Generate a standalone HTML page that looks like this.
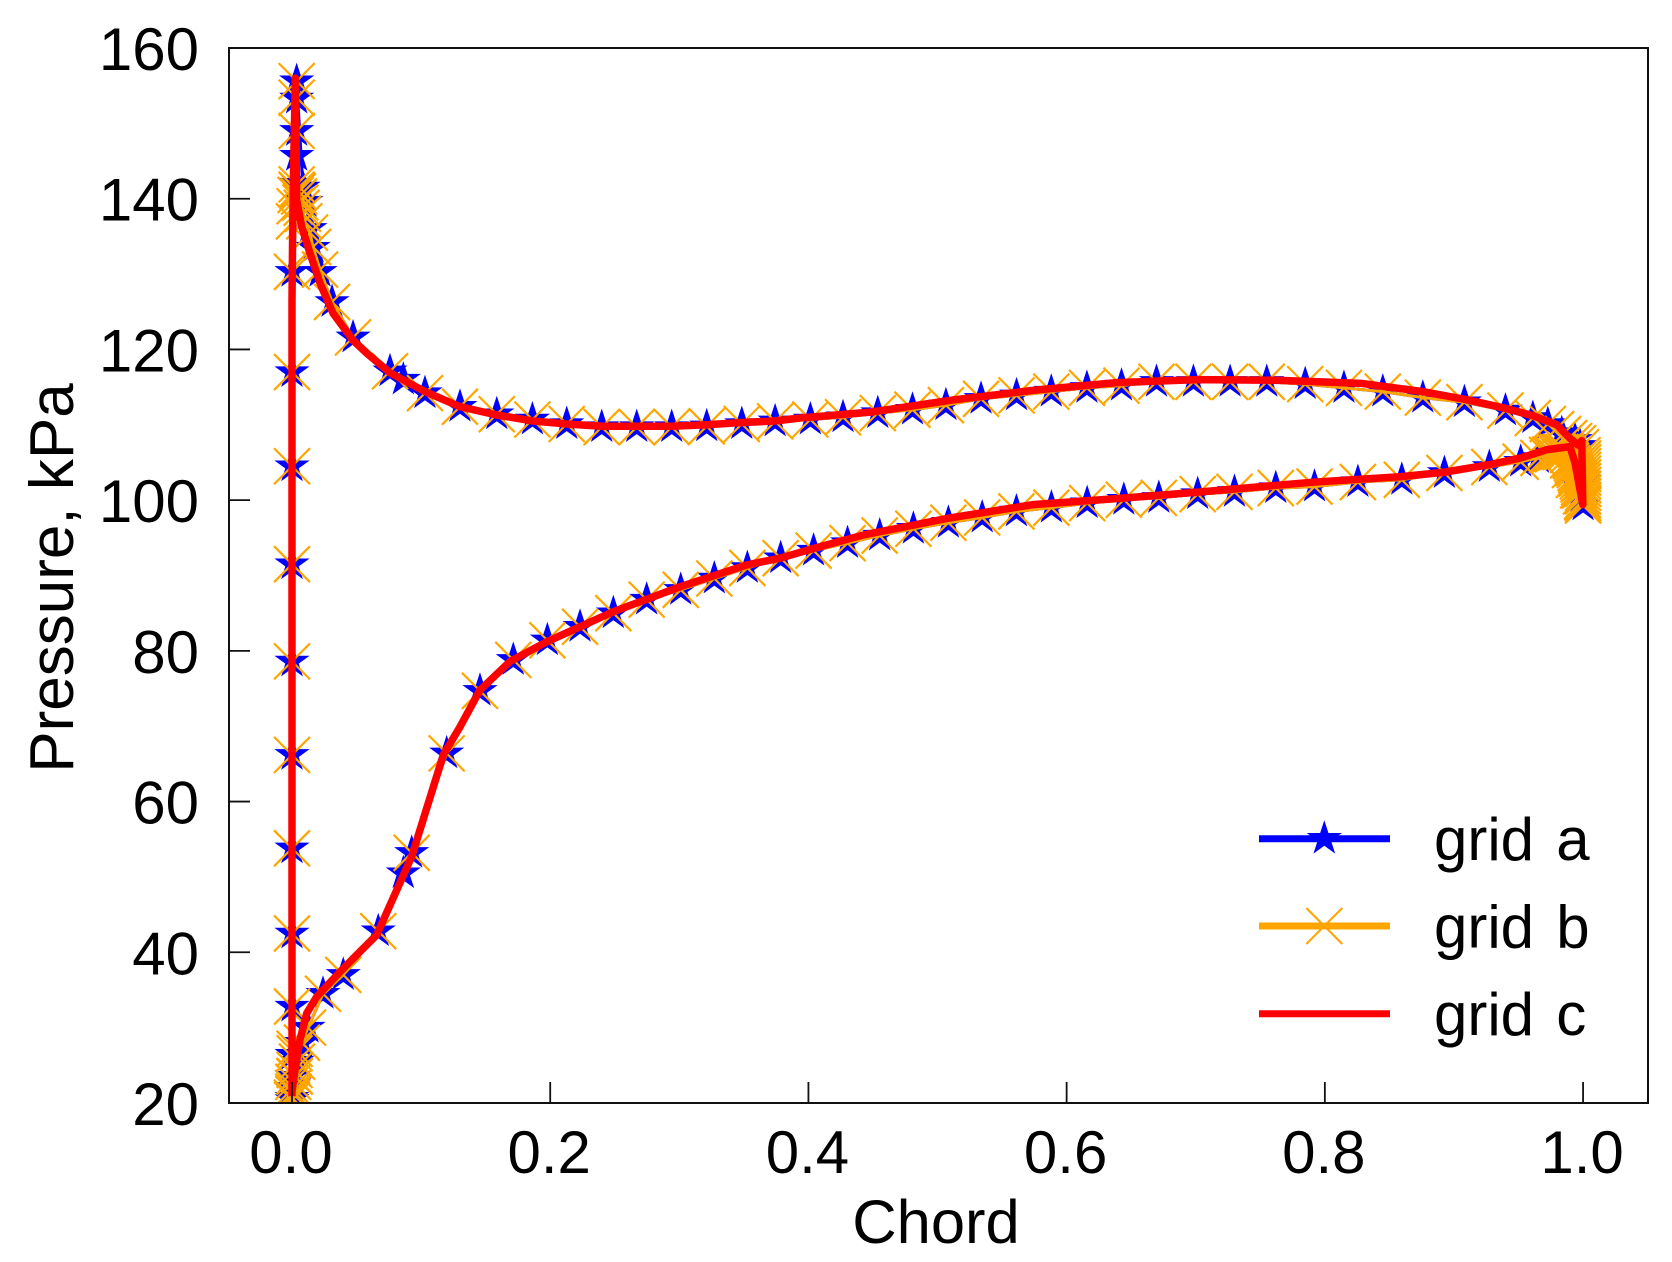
<!DOCTYPE html>
<html>
<head>
<meta charset="utf-8">
<style>
html,body{margin:0;padding:0;background:#fff;width:1672px;height:1262px;overflow:hidden}
svg{display:block}
text{font-family:"Liberation Sans",Arial,sans-serif;fill:#000}
</style>
</head>
<body>
<svg id="chart" xmlns="http://www.w3.org/2000/svg" width="1672" height="1262" viewBox="0 0 1672 1262">
  <defs><clipPath id="plot-clip"><rect x="229" y="48" width="1419" height="1055"/></clipPath></defs>
  <rect x="0" y="0" width="1672" height="1262" fill="#fff"/>
  <g id="series" clip-path="url(#plot-clip)"></g>
  <g id="axes"></g>
  <rect x="229" y="48" width="1419" height="1055" fill="none" stroke="#111" stroke-width="2"/>
  <text x="936" y="1243" font-size="61.5" text-anchor="middle">Chord</text>
  <text x="0" y="0" font-size="62" text-anchor="middle" transform="translate(73 578) rotate(-90)">Pressure, kPa</text>
  <g id="legend">
    <g>
      <line x1="1259" x2="1390" y1="838.7" y2="838.7" stroke="#0000ff" stroke-width="7"/>
      <polygon id="legend-star" fill="#0000ff"/>
      <text x="1434" y="860" font-size="60" word-spacing="5.5">grid a</text>
    </g>
    <g>
      <line x1="1259" x2="1390" y1="926" y2="926" stroke="#ffa500" stroke-width="7"/>
      <path d="M1306.3 908L1342.3 944M1306.3 944L1342.3 908" stroke="#ffa500" stroke-width="2" fill="none"/>
      <text x="1434" y="947.7" font-size="60" word-spacing="5.5">grid b</text>
    </g>
    <g>
      <line x1="1259" x2="1390" y1="1013.7" y2="1013.7" stroke="#ff0000" stroke-width="7"/>
      <text x="1434" y="1035" font-size="60" word-spacing="5.5">grid c</text>
    </g>
  </g>
</svg>
<script>
var xTicks = [0.0, 0.2, 0.4, 0.6, 0.8, 1.0];
var xTickLabels = ["0.0", "0.2", "0.4", "0.6", "0.8", "1.0"];
var yTicks = [20, 40, 60, 80, 100, 120, 140, 160];
var yTickLabels = ["20", "40", "60", "80", "100", "120", "140", "160"];

var gridAChord = [
0,0,0,0,0,0,0,0,0,0,0,0,0,
.0036,.0036,.0036,.0036,.0036,
.0085,.0108,.0139,.0163,.0217,.0310,.0473,
.0759,.0862,.1030,.1301,.1586,.1862,.2128,.2399,.2670,.2941,.3212,.3484,.3742,
.4015,.4268,.4537,.4806,.5065,.5337,.5612,.5881,.6157,.6425,.6696,.6982,.7266,.7550,.7848,.8148,.8449,.8759,.9081,.9399,.9611,.9727,.9835,.9938,
.9977,1,1,.9984,.9961,.9930,.9884,.9783,
.9654,.9517,.9274,.8926,.8596,
.8256,.7920,.7620,.7300,.7015,.6714,.6443,.6159,.5882,.5611,.5346,.5084,.4813,.4552,.4303,.4040,
.3785,.3527,.3271,.3011,.2747,.2489,.2231,.1978,.1714,.1456,
.1198,.0927,.0862,.0668,.0397,.0240,.0124,.0077,.0039,.0015,0];
var gridAPressure = [
20.4,22,23.5,26.4,32.8,42.5,53.8,66.2,78.6,91.5,104.5,117,130.3,
142,145.7,149,153.3,155.6,
141.5,139.6,136,133.5,130.3,126.3,121.6,
117.1,116,114.2,112.4,111.4,110.7,110.1,109.7,109.7,109.7,109.8,110.1,110.45,
110.7,111,111.55,112,112.6,113.45,113.9,114.4,114.9,115.2,115.7,115.7,115.7,115.7,115.4,114.9,114.4,113.6,113,111.9,110.9,110.1,108.9,108,
107.2,102.6,99.3,100.4,102,104,105.6,106,
105.6,105.1,104.4,103.6,102.7,
102.4,101.8,101.6,101.1,100.8,100.3,100.05,99.6,99,98.5,97.7,97,96.2,95.3,94.3,93.3,
92.3,91,89.6,88.1,86.8,85,83.2,81.4,78.8,74.7,
66.4,53.2,50.5,42.8,37,34.5,30,28,25.5,22.5,20.7];

var gridBChord = [
0,.001,.001,.001,.002,.002,.002,.002,
0,0,0,0,0,0,0,0,0,
.0015,.002,.0028,.0036,.0036,.0036,.0036,.0036,
.0045,.0055,.0065,.0075,.0085,.0095,.0139,.0163,.0217,.0310,.0473,
.0759,.1030,.1301,.1586,.1862,.2128,.2399,.2670,.2941,.3212,.3484,.3742,
.4015,.4268,.4537,.4806,.5065,.5337,.5612,.5881,.6157,.6425,.6696,.6982,.7266,.7550,.7848,.8148,.8449,.8759,.9081,.9399,.9611,.9727,
.9791,.9845,.9892,.9930,.9961,.9984,.9996,
1,1,1,1,1,1,1,1,1,1,1,1,1,1,
.9992,.9984,.9977,.9970,.9965,.9961,.9960,.9954,.9948,.9942,.9936,.9930,.9930,.9922,.9915,.9907,.9899,.9899,.9884,.9884,.9868,.9845,.9825,.9806,.9787,.9767,.9745,.9721,
.9654,.9517,.9274,.8926,.8596,
.8256,.7920,.7620,.7300,.7015,.6714,.6443,.6159,.5882,.5611,.5346,.5084,.4813,.4552,.4303,.4040,
.3785,.3527,.3271,.3011,.2747,.2489,.2231,.1978,.1714,.1456,
.1198,.0927,.0668,.0397,.0240,.0124,.0077,.0039,.0020,.0010,0];
var gridBPressure = [
20.4,21.2,22,22.8,23.6,24.4,26.6,27.2,
32.8,42.5,53.8,66.2,78.6,91.5,104.5,117,130.3,
137,139,140.5,141.2,141.9,149,153.4,155.6,
141,140.3,139.5,138.8,138,137,135.5,133.6,130.6,126.3,121.6,
117.1,114.2,112.4,111.4,110.7,110.1,109.7,109.7,109.7,109.8,110.1,110.45,
110.7,111,111.55,112,112.6,113.45,113.9,114.4,114.9,115.2,115.7,115.7,115.7,115.7,115.4,114.9,114.4,113.6,113,111.9,110.9,110.1,
109.43,108.77,108.24,107.84,107.57,107.04,105.97,
105.5,105,104.5,104,103.5,103,102.5,102,101.5,101,100.5,100,99.6,99.3,
99.8,100.5,101.3,101.7,102.1,101.3,102.5,102.9,103.3,103.6,104,104.3,102.7,104.6,104.9,105.2,105.4,104,106,105.3,106.4,106.4,106.4,106.4,106.3,106.1,106.05,106,
105.6,105.1,104.4,103.6,102.7,
102.4,101.8,101.6,101.1,100.8,100.3,100.05,99.6,99,98.5,97.7,97,96.2,95.3,94.3,93.3,
92.3,91,89.6,88.1,86.8,85,83.2,81.4,78.8,74.7,
66.4,53.2,42.8,37,34.5,30,28,25.5,23.5,21.5,20.7];

var gridCChord = [
0,0,0,0,0,.0006,.0015,.0026,.0031,.0036,.0075,.0139,.0217,.0318,.0473,.0579,.0759,.1030,.1301,.1586,.1869,.2128,.2399,.2670,.2941,.3212,.3484,.3741,.3935,.4490,.5120,.5755,.6387,.7018,.7653,.8280,.8761,.9078,.9396,.9613,.9796,.9899,.9961,.9990,.9998,
.9938,.9899,.9719,.9517,.9272,.8923,.8583,.7920,.7041,.6388,.5736,.5084,.4431,.4041,.3780,.3522,.3005,.2489,.1973,.1689,.1456,.1301,.1172,.0927,.0656,.0475,.0372,.0191,.0114,.0062,.0023,0];
var gridCPressure = [
20.9,46.9,73.5,100,126.6,137.2,146.5,156,149.1,139.8,136.3,132.8,128.8,124.8,121.2,119.5,116.9,114.4,112.4,111.3,110.5,110.1,109.8,109.8,109.8,110,110.3,110.5,110.9,111.7,113.3,114.6,115.6,116,115.9,115.5,114.4,113.4,112.2,111.2,110,108.2,107.3,107.9,99.4,
104.9,107.1,106.7,105.6,104.7,103.7,103.1,102.4,101.1,100.2,99.4,97.6,95.4,93.6,92.3,91.4,88.5,85.2,81.2,78.6,74.8,69.9,66.2,52.7,42.3,39.2,37.4,34.1,31.9,28.4,24.4,21.5];

var SVGNS = 'http://www.w3.org/2000/svg';
var plotLeft = 229, plotRight = 1648, plotTop = 48, plotBottom = 1103;
var xMin = -0.0488, xMax = 1.0503, yMin = 20, yMax = 160;
function xScale(v) { return plotLeft + (v - xMin) / (xMax - xMin) * (plotRight - plotLeft); }
function yScale(v) { return plotBottom - (v - yMin) / (yMax - yMin) * (plotBottom - plotTop); }
function starPoints(cx, cy, r) {
  var pts = [];
  for (var i = 0; i < 10; i++) {
    var rad = i % 2 === 0 ? r : r * 0.382;
    var ang = -Math.PI / 2 + i * Math.PI / 5;
    pts.push((cx + rad * Math.cos(ang)).toFixed(2) + ',' + (cy + rad * Math.sin(ang)).toFixed(2));
  }
  return pts.join(' ');
}
function pointString(xs, ys) {
  var out = [];
  for (var i = 0; i < xs.length; i++) out.push(xScale(xs[i]).toFixed(2) + ',' + yScale(ys[i]).toFixed(2));
  return out.join(' ');
}
document.getElementById('legend-star').setAttribute('points', starPoints(1324.3, 838.7, 18.5));

var seriesGroup = document.getElementById('series');
var axesGroup = document.getElementById('axes');

var lineA = document.createElementNS(SVGNS, 'polyline');


lineA.setAttribute('points', pointString(gridAChord, gridAPressure));
lineA.setAttribute('fill', 'none');
lineA.setAttribute('stroke', '#0000ff');
lineA.setAttribute('stroke-width', '3');
lineA.setAttribute('stroke-linejoin', 'round');
seriesGroup.appendChild(lineA);
gridAChord.forEach(function (c, i) {
  var star = document.createElementNS(SVGNS, 'polygon');
  
  
  star.setAttribute('points', starPoints(xScale(c), yScale(gridAPressure[i]), 18.5));
  star.setAttribute('fill', '#0000ff');
  seriesGroup.appendChild(star);
});

var lineB = document.createElementNS(SVGNS, 'polyline');


lineB.setAttribute('points', pointString(gridBChord, gridBPressure));
lineB.setAttribute('fill', 'none');
lineB.setAttribute('stroke', '#ffa500');
lineB.setAttribute('stroke-width', '3');
lineB.setAttribute('stroke-linejoin', 'round');
seriesGroup.appendChild(lineB);
gridBChord.forEach(function (c, i) {
  var cx = xScale(c), cy = yScale(gridBPressure[i]), h = 18;
  var mark = document.createElementNS(SVGNS, 'path');
  
  
  mark.setAttribute('d', 'M' + (cx - h) + ' ' + (cy - h) + 'L' + (cx + h) + ' ' + (cy + h) + 'M' + (cx - h) + ' ' + (cy + h) + 'L' + (cx + h) + ' ' + (cy - h));
  mark.setAttribute('stroke', '#ffa500');
  mark.setAttribute('stroke-width', '2.2');
  mark.setAttribute('fill', 'none');
  seriesGroup.appendChild(mark);
});

var lineC = document.createElementNS(SVGNS, 'polyline');


lineC.setAttribute('points', pointString(gridCChord, gridCPressure));
lineC.setAttribute('fill', 'none');
lineC.setAttribute('stroke', '#ff0000');
lineC.setAttribute('stroke-width', '7.5');
lineC.setAttribute('stroke-linejoin', 'round');
seriesGroup.appendChild(lineC);

xTicks.forEach(function (t, i) {
  var px = xScale(t);
  var tick = document.createElementNS(SVGNS, 'line');
  
  
  tick.setAttribute('x1', px);
  tick.setAttribute('x2', px);
  tick.setAttribute('y1', plotBottom);
  tick.setAttribute('y2', plotBottom - 21);
  tick.setAttribute('stroke', '#111');
  tick.setAttribute('stroke-width', '1.8');
  axesGroup.appendChild(tick);
  var label = document.createElementNS(SVGNS, 'text');
  
  
  label.setAttribute('x', px - 1);
  label.setAttribute('y', 1173);
  label.setAttribute('font-size', '60');
  label.setAttribute('text-anchor', 'middle');
  label.textContent = xTickLabels[i];
  axesGroup.appendChild(label);
});
yTicks.forEach(function (t, i) {
  var py = yScale(t);
  var tick = document.createElementNS(SVGNS, 'line');
  
  
  tick.setAttribute('x1', plotLeft);
  tick.setAttribute('x2', plotLeft + 21);
  tick.setAttribute('y1', py);
  tick.setAttribute('y2', py);
  tick.setAttribute('stroke', '#111');
  tick.setAttribute('stroke-width', '1.8');
  axesGroup.appendChild(tick);
  var label = document.createElementNS(SVGNS, 'text');
  
  
  label.setAttribute('x', 199);
  label.setAttribute('y', py + 22);
  label.setAttribute('font-size', '60');
  label.setAttribute('text-anchor', 'end');
  label.textContent = yTickLabels[i];
  axesGroup.appendChild(label);
});
</script>
</body>
</html>
